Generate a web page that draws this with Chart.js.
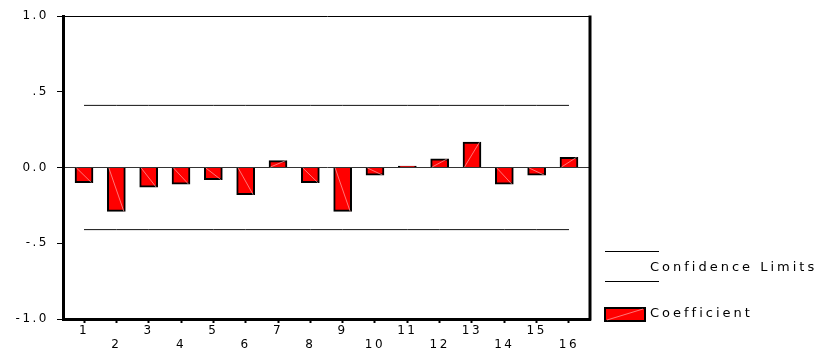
<!DOCTYPE html>
<html>
<head>
<meta charset="utf-8">
<title>Coefficient</title>
<script src="https://cdn.jsdelivr.net/npm/chart.js@4/dist/chart.umd.min.js"></script>
<style>
  html, body { margin: 0; padding: 0; background: #fff; }
  #acf { display: block; }
</style>
</head>
<body>
<canvas id="acf" width="829" height="351"></canvas>
<script>
// lag numbers and autocorrelation coefficients
const lags = [1, 2, 3, 4, 5, 6, 7, 8, 9, 10, 11, 12, 13, 14, 15, 16];
const coefficient = [-0.10, -0.29, -0.13, -0.11, -0.08, -0.18, 0.045, -0.10, -0.29, -0.05, 0.01, 0.057, 0.167, -0.11, -0.05, 0.067];
const upperLimit = [0.41, 0.41, 0.41, 0.41, 0.41, 0.41, 0.41, 0.41, 0.41, 0.41, 0.41, 0.41, 0.41, 0.41, 0.41, 0.41];
const lowerLimit = [-0.41, -0.41, -0.41, -0.41, -0.41, -0.41, -0.41, -0.41, -0.41, -0.41, -0.41, -0.41, -0.41, -0.41, -0.41, -0.41];
const yTicks = [-1, -0.5, 0, 0.5, 1];

const FONT = '"DejaVu Sans", "Liberation Sans", Arial, sans-serif';

const fmtTick = (v) => {
  let s = Number(v).toFixed(1);
  if (v !== 0 && Math.abs(v) < 1) s = s.replace("0.", ".");
  return s;
};

// wide letter spacing on the axis labels
const spacedText = {
  id: "spacedText",
  beforeDraw: (chart) => { chart.ctx.letterSpacing = "2.5px"; },
  afterDraw: (chart) => { chart.ctx.letterSpacing = "0px"; }
};

// pale diagonal stroke inside every bar
const barStreak = {
  id: "barStreak",
  afterDatasetsDraw: (chart) => {
    const ctx = chart.ctx;
    const meta = chart.getDatasetMeta(0);
    ctx.save();
    ctx.strokeStyle = "rgba(255,175,175,.85)";
    ctx.lineWidth = 0.8;
    meta.data.forEach((bar) => {
      const p = bar.getProps(["x", "y", "base", "width"], true);
      const l = p.x - p.width / 2 + 1.5;
      const r = p.x + p.width / 2 - 1.5;
      if (Math.abs(p.base - p.y) < 3) return;
      ctx.beginPath();
      ctx.moveTo(l, p.base);
      ctx.lineTo(r, p.y);
      ctx.stroke();
    });
    ctx.restore();
  }
};

// right side of the frame plus the legend block
const frameLegend = {
  id: "frameLegend",
  afterDraw: (chart) => {
    const ctx = chart.ctx;
    const a = chart.chartArea;
    ctx.save();
    ctx.strokeStyle = "#000";
    ctx.lineWidth = 3;
    ctx.beginPath();
    ctx.moveTo(a.right, a.top - 0.5);
    ctx.lineTo(a.right, a.bottom + 1.5);
    ctx.stroke();

    const x0 = a.right + 15;
    ctx.lineWidth = 1;
    ctx.beginPath();
    ctx.moveTo(x0, 251.5); ctx.lineTo(x0 + 54, 251.5);
    ctx.moveTo(x0, 281.5); ctx.lineTo(x0 + 54, 281.5);
    ctx.stroke();

    ctx.fillStyle = "#FF0000";
    ctx.fillRect(x0, 308, 40, 13);
    ctx.lineWidth = 2;
    ctx.strokeRect(x0, 308, 40, 13);
    ctx.strokeStyle = "rgba(255,175,175,.85)";
    ctx.lineWidth = 0.8;
    ctx.beginPath();
    ctx.moveTo(x0 + 2, 320); ctx.lineTo(x0 + 38, 309);
    ctx.stroke();

    ctx.fillStyle = "#000";
    ctx.font = `13px ${FONT}`;
    ctx.letterSpacing = "3px";
    ctx.textBaseline = "middle";
    ctx.textAlign = "left";
    ctx.fillText("Confidence Limits", a.right + 60, 268);
    ctx.fillText("Coefficient", a.right + 60, 314);
    ctx.restore();
  }
};

new Chart(document.getElementById("acf"), {
  data: {
    labels: lags,
    datasets: [
      { type: "bar", label: "Coefficient", data: coefficient, backgroundColor: "#FF0000", borderColor: "#000", borderWidth: 2, barThickness: 18, order: 2 },
      { type: "line", label: "Confidence Limits", data: upperLimit, borderColor: "#111", borderWidth: 1, pointRadius: 0, fill: false, order: 1 },
      { type: "line", label: "Confidence Limits", data: lowerLimit, borderColor: "#111", borderWidth: 1, pointRadius: 0, fill: false, order: 1 }
    ]
  },
  options: {
    responsive: false,
    animation: false,
    layout: { padding: { top: 16, right: 239, left: 0, bottom: 0 } },
    plugins: { legend: { display: false }, tooltip: { enabled: false } },
    scales: {
      x: {
        type: "linear",
        min: 0.35,
        max: 16.65,
        offset: false,
        afterBuildTicks: (scale) => { scale.ticks = lags.map((v) => ({ value: v })); },
        afterFit: (scale) => { scale.height = 32; },
        border: { color: "#000", width: 3 },
        grid: { offset: false, drawOnChartArea: false, drawTicks: true, tickLength: 4, tickWidth: 2, tickColor: "#000" },
        ticks: {
          autoSkip: false,
          maxRotation: 0,
          padding: 1,
          color: "#000",
          font: { family: FONT, size: 12, lineHeight: 1.15 },
          callback: (v) => (v % 2 ? String(v) : ["", String(v)])
        }
      },
      y: {
        min: -1,
        max: 1,
        afterBuildTicks: (scale) => { scale.ticks = yTicks.map((v) => ({ value: v })); },
        afterFit: (scale) => { scale.width = 63; },
        border: { color: "#000", width: 3 },
        grid: {
          drawTicks: true,
          tickLength: 6,
          tickColor: "#000",
          lineWidth: 1,
          color: (c) => (c.tick.value === 1 ? "#000" : c.tick.value === 0 ? "#333" : "rgba(0,0,0,0)")
        },
        ticks: {
          padding: 8,
          color: "#000",
          font: { family: FONT, size: 12 },
          callback: (v) => fmtTick(v)
        }
      }
    }
  },
  plugins: [spacedText, barStreak, frameLegend]
});
</script>
</body>
</html>
